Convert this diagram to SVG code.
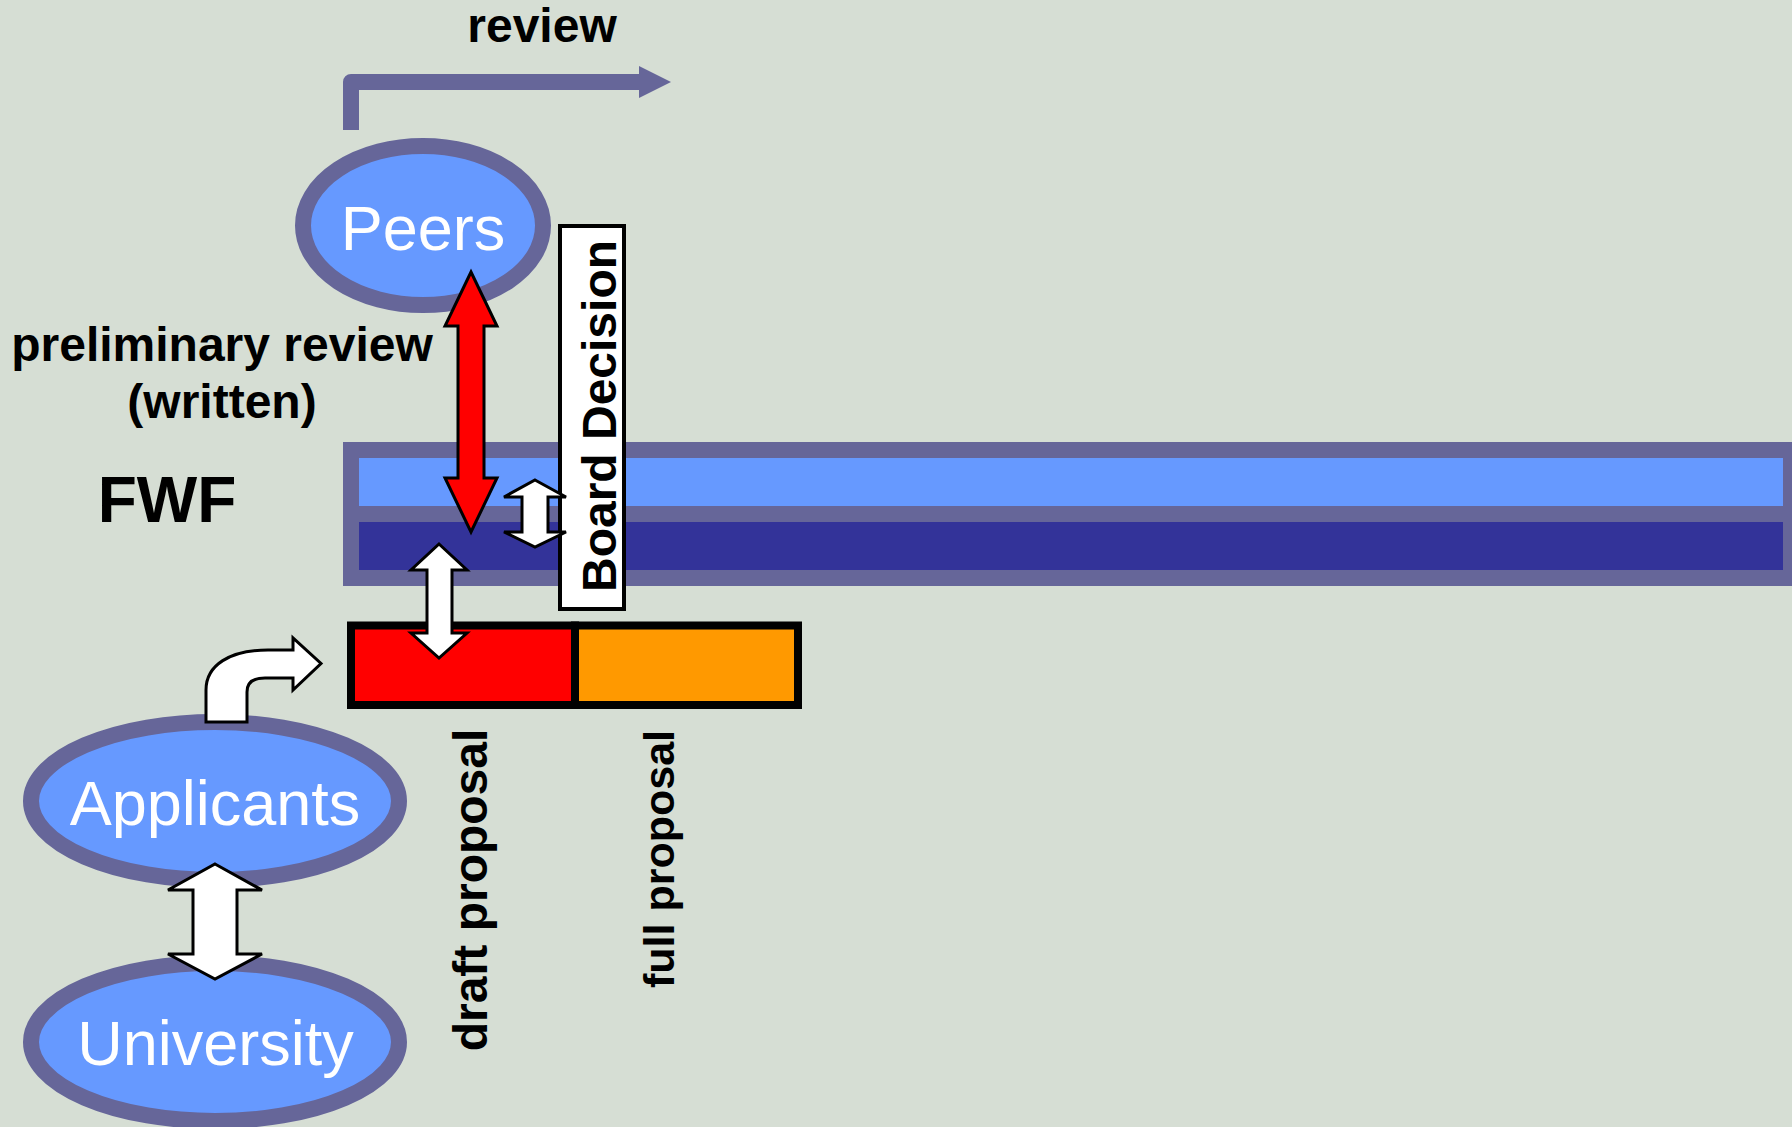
<svg xmlns="http://www.w3.org/2000/svg" width="1792" height="1127" viewBox="0 0 1792 1127">
<style>
.bg{fill:#D6DED4}
.oval{fill:#6699FF;stroke:#666699;stroke-width:16}
.ovtxt{font-family:"Liberation Sans",Arial,sans-serif;fill:#FFFFFF;text-anchor:middle}
.lbl{font-family:"Liberation Sans",Arial,sans-serif;font-weight:bold;fill:#000000;text-anchor:middle}
.white-arrow{fill:#FFFFFF;stroke:#000000;stroke-width:3;stroke-linejoin:miter}
.red-arrow{fill:#FF0000;stroke:#000000;stroke-width:3}
.box{stroke:#000000;stroke-width:8}
</style>
<rect class="bg" x="0" y="0" width="1792" height="1127"/>

<g id="fwf">
  <rect x="343" y="442" width="1460" height="144" fill="#666699"/>
  <rect x="359" y="458" width="1424" height="48" fill="#6699FF"/>
  <rect x="359" y="522" width="1424" height="48" fill="#333399"/>
  <text class="lbl" x="167" y="522" font-size="64">FWF</text>
</g>

<g id="board-decision">
  <rect x="560" y="226" width="64" height="383" fill="#FFFFFF" stroke="#000000" stroke-width="4"/>
  <text class="lbl" font-size="48" transform="translate(616,416) rotate(-90)">Board Decision</text>
</g>

<g id="draft-proposal">
  <rect class="box" x="351" y="625.5" width="224" height="79.5" fill="#FF0000"/>
  <text class="lbl" font-size="48" transform="translate(487,890) rotate(-90)">draft proposal</text>
</g>

<g id="full-proposal">
  <rect class="box" x="575" y="625.5" width="223" height="79.5" fill="#FF9900"/>
  <text class="lbl" font-size="43" transform="translate(674,859) rotate(-90)">full proposal</text>
</g>

<g id="peers">
  <ellipse class="oval" cx="423" cy="225.5" rx="120" ry="79.5"/>
  <text class="ovtxt" x="423" y="250" font-size="63">Peers</text>
</g>

<g id="applicants">
  <ellipse class="oval" cx="215" cy="801" rx="184" ry="79"/>
  <text class="ovtxt" x="215" y="825" font-size="63">Applicants</text>
</g>

<g id="university">
  <ellipse class="oval" cx="215" cy="1042" rx="184" ry="79"/>
  <text class="ovtxt" x="215.5" y="1065" font-size="63">University</text>
</g>

<g id="labels">
  <text class="lbl" x="542" y="42" font-size="48">review</text>
  <text class="lbl" x="222" y="361" font-size="48">preliminary review</text>
  <text class="lbl" x="222" y="418" font-size="48">(written)</text>
</g>

<g id="connectors">
  <path d="M351,130 V82 H642" fill="none" stroke="#666699" stroke-width="16" stroke-linejoin="round"/>
  <polygon points="639,66 671,82 639,98" fill="#666699"/>
  <polygon class="red-arrow" points="471,272 497,326 484,326 484,478 497,478 471,532 445,478 458,478 458,326 445,326"/>
  <polygon class="white-arrow" points="535,480 566,497 548,497 548,532 566,532 535,547 504,532 522,532 522,497 504,497"/>
  <polygon class="white-arrow" points="439,544 467,570 452,570 452,633 467,633 439,658 411,633 427,633 427,570 411,570"/>
  <polygon class="white-arrow" points="215,864 262,890 237,890 237,954 262,954 215,979 168,954 193,954 193,890 168,890"/>
  <path class="white-arrow" d="M206,722 V690 C206,665 230,650 268,650 H293 V638 L321,663.5 L293,690 V678 H265 C252,678 247,684 247,692 V722 Z"/>
</g>
</svg>
